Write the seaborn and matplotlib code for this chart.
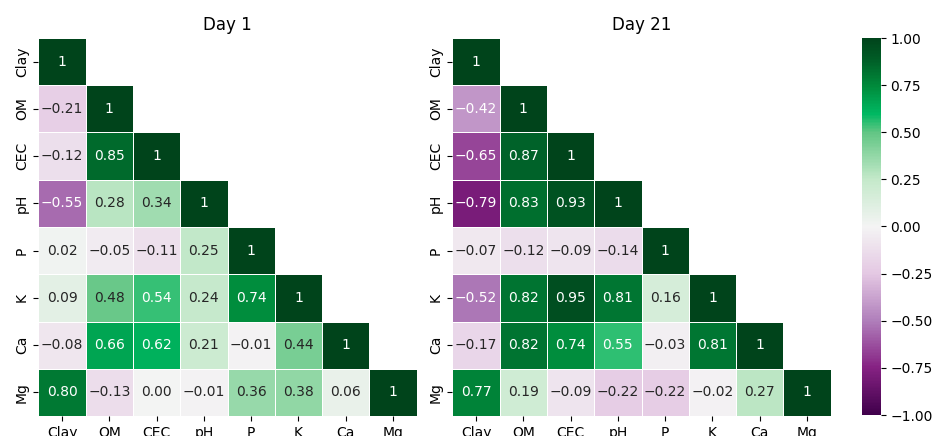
import numpy as np
import pandas as pd
import matplotlib
matplotlib.use("Agg")
import matplotlib.pyplot as plt
from matplotlib.colors import LinearSegmentedColormap
import seaborn as sns

variables = ["Clay", "OM", "CEC", "pH", "P", "K", "Ca", "Mg"]

# Lower-triangle correlation coefficients (row by row, diagonal included)
day1_rows = [
    [1.00],
    [-0.21, 1.00],
    [-0.12, 0.85, 1.00],
    [-0.55, 0.28, 0.34, 1.00],
    [0.02, -0.05, -0.11, 0.25, 1.00],
    [0.09, 0.48, 0.54, 0.24, 0.74, 1.00],
    [-0.08, 0.66, 0.62, 0.21, -0.01, 0.44, 1.00],
    [0.80, -0.13, 0.00, -0.01, 0.36, 0.38, 0.06, 1.00],
]
day21_rows = [
    [1.00],
    [-0.42, 1.00],
    [-0.65, 0.87, 1.00],
    [-0.79, 0.83, 0.93, 1.00],
    [-0.07, -0.12, -0.09, -0.14, 1.00],
    [-0.52, 0.82, 0.95, 0.81, 0.16, 1.00],
    [-0.17, 0.82, 0.74, 0.55, -0.03, 0.81, 1.00],
    [0.77, 0.19, -0.09, -0.22, -0.22, -0.02, 0.27, 1.00],
]
titles = ["Day 1", "Day 21"]
cbar_ticks = [-1.0, -0.75, -0.5, -0.25, 0.0, 0.25, 0.5, 0.75, 1.0]


def full_matrix(rows):
    n = len(rows)
    m = np.full((n, n), np.nan)
    for i, r in enumerate(rows):
        for j, v in enumerate(r):
            m[i, j] = v
            m[j, i] = v
    return pd.DataFrame(m, index=variables, columns=variables)


def labels(df):
    out = np.empty(df.shape, dtype=object)
    for i in range(df.shape[0]):
        for j in range(df.shape[1]):
            v = df.iat[i, j]
            out[i, j] = "1" if i == j else f"{v:.2f}".replace("-", "\u2212")
    return out


# Purple-white-green diverging map
cmap = LinearSegmentedColormap.from_list(
    "soil_prgn",
    [
        (0.000, "#40004b"),
        (0.125, "#862283"),
        (0.250, "#b07fbb"),
        (0.375, "#e4c8e3"),
        (0.500, "#f4f4f4"),
        (0.625, "#c4e9ca"),
        (0.750, "#62c684"),
        (0.800, "#00b862"),
        (0.875, "#008a3b"),
        (0.950, "#005a25"),
        (1.000, "#00441b"),
    ],
)

fig = plt.figure(figsize=(9.32, 4.36), dpi=100)
W, H = 932, 436
ax1 = fig.add_axes([38 / W, 20 / H, 379 / W, 378 / H])
ax2 = fig.add_axes([452 / W, 20 / H, 379 / W, 378 / H])
cax = fig.add_axes([862 / W, 21 / H, 18.5 / W, 377 / H])

for ax, rows, title, last in zip([ax1, ax2], [day1_rows, day21_rows], titles, [False, True]):
    df = full_matrix(rows)
    mask = np.triu(np.ones(df.shape, dtype=bool), k=1)
    sns.heatmap(
        df, mask=mask, cmap=cmap, vmin=-1, vmax=1, center=0,
        annot=labels(df), fmt="", annot_kws={"fontsize": 10},
        linewidths=0.5, linecolor="white", square=True,
        cbar=last, cbar_ax=cax if last else None, ax=ax,
    )
    ax.set_title(title, fontsize=12)
    ax.tick_params(labelsize=10)
    ax.set_xlabel("")
    ax.set_ylabel("")

cax.set_yticks(cbar_ticks)
cax.set_yticklabels([f"{t:.2f}".replace("-", "\u2212") for t in cbar_ticks])
cax.tick_params(labelsize=10)

fig.savefig("out.png", dpi=100)
